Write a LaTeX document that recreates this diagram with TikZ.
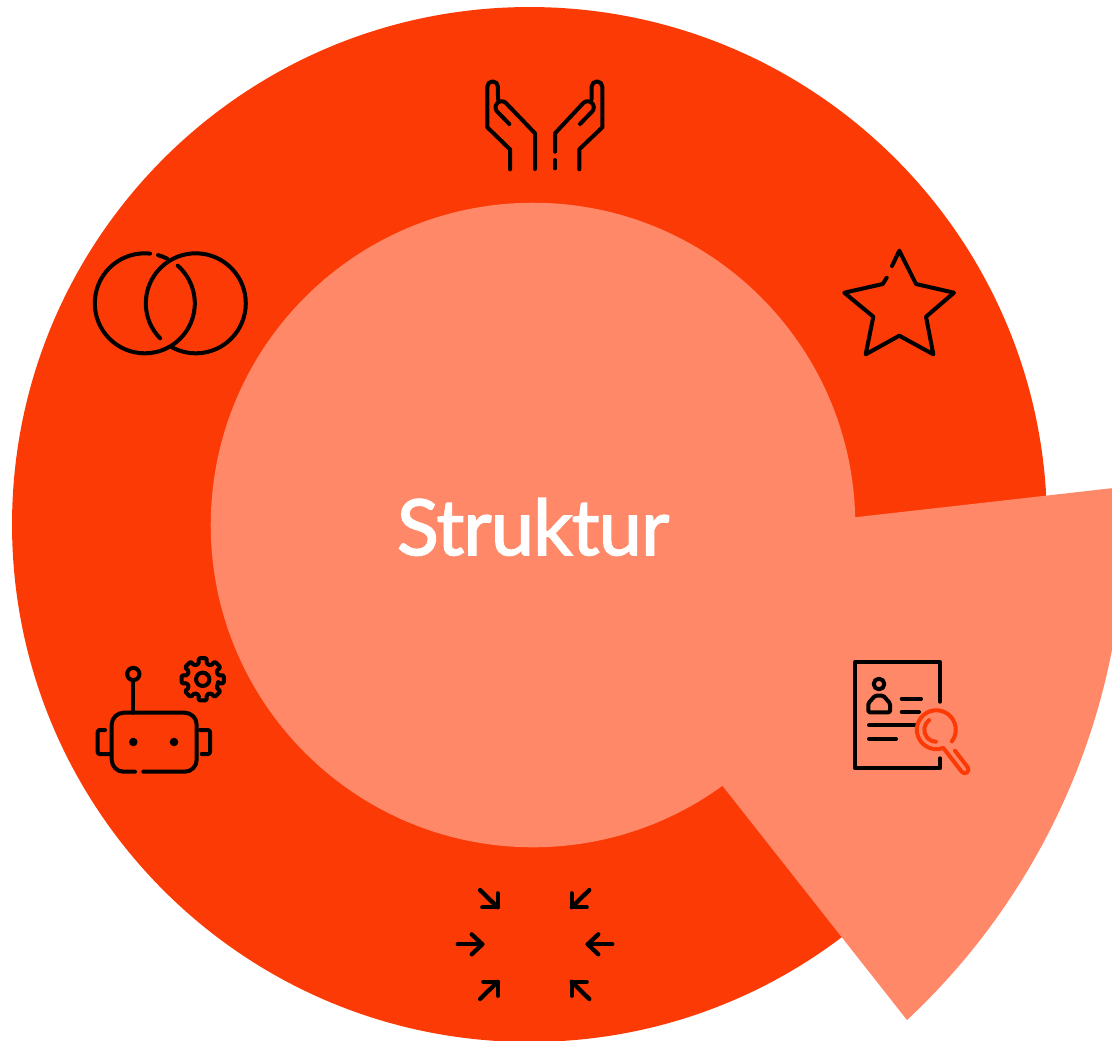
\documentclass[tikz,border=0pt]{standalone}
\usepackage{fontspec}
\setmainfont{Lato}
\newfontfamily\titlefont[FakeBold=2,LetterSpace=-1]{Lato}
\definecolor{ringcol}{HTML}{FC3A05}
\definecolor{softcol}{HTML}{FF8869}
\tikzset{
  x=0.75pt,y=0.75pt,
  icon/.style={draw=black,line width=3pt,line cap=round,line join=round},
  lens/.style={draw=ringcol,line width=3pt,line cap=round,line join=round},
  arrowline/.style={draw=black,line width=3.2pt,line cap=round,line join=round},
}
\begin{document}
\begin{tikzpicture}
\useasboundingbox (0,0) rectangle (1112,-1040);
\clip (0,0) rectangle (1112,-1040);
% discs
\fill[ringcol] (529.5,-524.5) circle [radius=388.1pt];
\fill[softcol] (533,-525) circle [radius=241.7pt];
\fill[softcol] (539,-553) -- (1118,-487.5) -- (1118,-614)
  .. controls (1096.2,-769.4) and (1021.7,-912.9) .. (907,-1020) -- cycle;
% label
\node[text=white,inner sep=0,anchor=base] (title) at (533,-555) {\fontsize{58pt}{58pt}\titlefont Struktur};
% hands
\draw[icon] (510,-169.3) -- (510,-149.3) -- (487.3,-127.3) -- (487.3,-86.7)
  arc[start angle=180,end angle=0,radius=4pt] -- (498,-99.3);
\draw[icon] (509.3,-124) -- (497.3,-111.7) arc[start angle=225,end angle=45,radius=4.6pt] -- (535,-133.3) -- (535,-169);
\draw[icon] (579.3,-169.3) -- (579.3,-149.3) -- (602.3,-127.3) -- (602.3,-86.7)
  arc[start angle=0,end angle=180,radius=4pt] -- (591.6,-99.3);
\draw[icon] (580,-124) -- (592,-111.7) arc[start angle=-45,end angle=135,radius=4.6pt] -- (555,-133.3) -- (555,-151.7);
\draw[icon] (555,-160) -- (555,-168.3);
% rings
\draw[icon] (144.8,-303.3) ++(84:37.5pt) arc[start angle=84,end angle=408.8,radius=37.5pt];
\draw[icon] (144.8,-303.3) ++(74.6:37.5pt) arc[start angle=74.6,end angle=63.4,radius=37.5pt];
\draw[icon] (195.8,-303.3) ++(224.4:37.5pt) arc[start angle=224.4,end angle=-118.1,radius=37.5pt];
% star
\draw[icon] (892,-266) -- (899.3,-250.7) -- (916,-284) -- (954,-292.7) -- (926,-316.7) -- (933.3,-354.3)
  -- (899.3,-335.7) -- (865.7,-354.3) -- (873.3,-316.7) -- (844.3,-292.7) -- (882.7,-284) -- (886.7,-277.7);
% robot
\draw[icon] (133.3,-674) circle [radius=4.6pt];
\draw[icon] (133.3,-681) -- (133.3,-712.7);
\draw[icon,rounded corners=9pt] (135,-771.7) -- (111.7,-771.7) -- (111.7,-712.7) -- (196.7,-712.7) -- (196.7,-771.7) -- (143.3,-771.7);
\fill (133.3,-742) circle [radius=3.2pt];
\fill (174,-742) circle [radius=3.2pt];
\draw[icon,rounded corners=1.5pt] (105,-730) -- (97.7,-730) -- (97.7,-754) -- (110,-754);
\draw[icon,rounded corners=1.5pt] (200,-730) -- (210,-730) -- (210,-754) -- (201.7,-754);
\draw[icon] (202.7,-679.3) circle [radius=5pt];
\draw[icon,rounded corners=1pt] ([shift={(202.7,-679.3)}]-14:16)
  \foreach \a in {0,45,...,315} {
    -- ([shift={(202.7,-679.3)}]\a-14:16)
    -- ([shift={(202.7,-679.3)}]\a-11:21.5)
    -- ([shift={(202.7,-679.3)}]\a+11:21.5)
    -- ([shift={(202.7,-679.3)}]\a+14:16)
  } -- cycle;
% document
\draw[icon] (940,-701.7) -- (940,-662.3) -- (855,-662.3) -- (855,-768.3) -- (940,-768.3) -- (940,-758.3);
\draw[icon] (879,-684) circle [radius=4pt];
\draw[icon,rounded corners=1pt] (868.3,-712.3) -- (890,-712.3) -- (890,-703.3) -- (883.3,-695.7) -- (875,-695.7) -- (868.3,-703.3) -- cycle;
\draw[icon] (901.7,-698.7) -- (921,-698.7);
\draw[icon] (901.7,-712) -- (919,-712);
\draw[icon] (869,-725.3) -- (915,-725.3);
\draw[icon] (869,-738.7) -- (896,-738.7);
\draw[lens] (936.3,-729.7) ++(-37:14.6pt) arc[start angle=-37,end angle=291,radius=14.6pt]
  -- (961.7,-771.7) arc[start angle=216,end angle=396,radius=2.8pt] -- (955,-750.7);
\draw[lens] (936.3,-729.7) ++(127:9pt) arc[start angle=127,end angle=268,radius=9pt];
% arrows
\draw[arrowline] (480,-890) -- (497.7,-907.3);
\draw[arrowline] (497.7,-893.3) -- (497.7,-907.3) -- (482.3,-907.3);
\draw[arrowline] (589.3,-890) -- (571.7,-907.3);
\draw[arrowline] (571.7,-893.3) -- (571.7,-907.3) -- (586.7,-907.3);
\draw[arrowline] (457.7,-944.3) -- (482.3,-944.3);
\draw[arrowline] (471.7,-934.3) -- (482.3,-944.3) -- (471.7,-954.3);
\draw[arrowline] (612.3,-944.3) -- (587.7,-944.3);
\draw[arrowline] (598.3,-934.3) -- (587.7,-944.3) -- (598.3,-954.3);
\draw[arrowline] (480,-999) -- (497.7,-981.7);
\draw[arrowline] (483.3,-981.7) -- (497.7,-981.7) -- (497.7,-995.7);
\draw[arrowline] (589.3,-999) -- (571.7,-981.7);
\draw[arrowline] (586.7,-981.7) -- (571.7,-981.7) -- (571.7,-995.7);
\end{tikzpicture}
\end{document}
